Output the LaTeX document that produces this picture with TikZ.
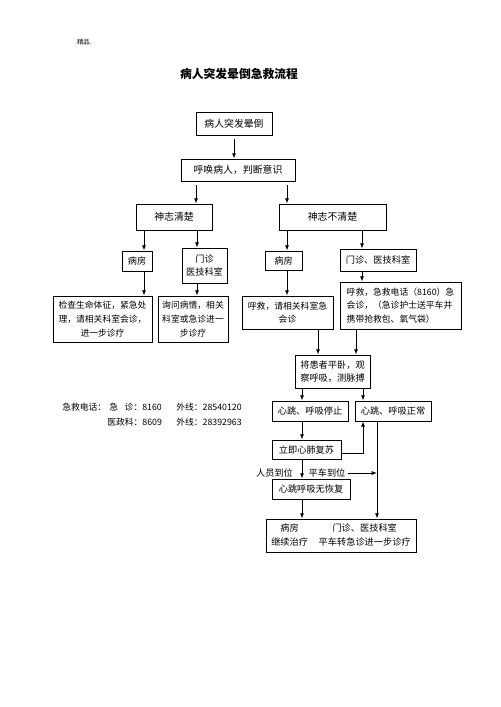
\documentclass[tikz,border=0pt]{standalone}
\usepackage{fontspec}
\setmainfont{Noto Sans CJK SC}
\usetikzlibrary{arrows.meta}
\begin{document}
\begin{tikzpicture}[x=0.75pt,y=-0.75pt,
  box/.style={draw,line width=0.6pt,inner sep=0pt,align=center,font=\fontsize{6.6}{10.3}\selectfont},
  big/.style={font=\fontsize{7.4}{10.3}\selectfont},
  mid/.style={font=\fontsize{6.9}{10.3}\selectfont},
  w/.style={minimum width=#1*0.75pt},
  h/.style={minimum height=#1*0.75pt},
  lbl/.style={inner sep=0pt,font=\fontsize{6.9}{9}\selectfont},
  phone/.style={inner sep=0pt,anchor=west,font=\fontsize{6.6}{9}\selectfont},
  arr/.style={line width=0.6pt,-{Latex[length=4pt,width=3pt]}},
  ln/.style={line width=0.6pt}]
\useasboundingbox (0,0) rectangle (500,707);

\node[inner sep=0pt,anchor=west,font=\fontsize{4.8}{5}\selectfont] (jp) at (75,42) {.精品.};
\node[inner sep=0pt,font=\bfseries\fontsize{8.85}{10}\selectfont] (title) at (239,74) {病人突发晕倒急救流程};

\node[box,big,w=76,h=23] (b1) at (234,123.5) {病人突发晕倒};
\node[box,big,w=114,h=22] (b2) at (238,170) {呼唤病人，判断意识};
\node[box,big,w=76,h=26] (b3) at (174,217) {神志清楚};
\node[box,big,w=107,h=26] (b4) at (332.5,217) {神志不清楚};

\node[box,mid,w=30,h=20] (l1) at (137,261) {病房};
\node[box,mid,w=45,h=35] (l2) at (204.5,265.5) {门诊\\医技科室};
\node[box,mid,w=37,h=19] (r1) at (283.5,260.5) {病房};
\node[box,mid,w=76,h=22] (r2) at (378,260) {门诊、医技科室};

\node[box,w=99,h=46] (l3) at (102.5,319) {检查生命体征，紧急处\\理，请相关科室会诊，\\进一步诊疗};
\node[box,w=70,h=46] (l4) at (193,319) {询问病情，相关\\科室或急诊进一\\步诊疗};
\node[box,w=91,h=33] (r3) at (287.5,312.5) {呼救，请相关科室急\\会诊};
\node[box,w=121,h=47,align=left] (r4) at (400.5,305.5) {呼救，急救电话（8160）急\\会诊，（急诊护士送平车并\\携带抢救包、氧气袋）};

\node[box,mid,w=75,h=33] (m1) at (332.5,371.5) {将患者平卧，观\\察呼吸，测脉搏};
\node[box,mid,w=76,h=20] (s1) at (310,411) {心跳、呼吸停止};
\node[box,mid,w=76,h=20] (s2) at (393,411) {心跳、呼吸正常};
\node[box,mid,w=69,h=19] (c1) at (306.5,449.5) {立即心肺复苏};
\node[box,mid,w=78,h=20] (n1) at (311,489) {心跳呼吸无恢复};
\node[box,mid,w=150,h=33] (fin) at (341,535.5) {\setlength{\tabcolsep}{4pt}\renewcommand{\arraystretch}{1.05}\begin{tabular}{cc}病房 & 门诊、医技科室\\继续治疗 & 平车转急诊进一步诊疗\end{tabular}};

\node[lbl] (p1) at (274.5,473) {人员到位};
\node[lbl] (p2) at (327,473) {平车到位};

\node[phone] (ph1) at (62,407) {急救电话：};
\node[phone] (ph2) at (109,407) {急\hspace{5pt}诊：8160};
\node[phone] (ph3) at (176,407) {外线：28540120};
\node[phone] (ph4) at (107,422) {医政科：8609};
\node[phone] (ph5) at (176,422) {外线：28392963};

% x positions of the connectors
\coordinate (xa) at (234,0);
\coordinate (xb) at (196,0);
\coordinate (xc) at (287,0);
\coordinate (xd) at (144,0);
\coordinate (xe) at (197,0);
\coordinate (xf) at (362,0);
\coordinate (xg) at (318,0);
\coordinate (xh) at (356,0);
\coordinate (xi) at (302,0);
\coordinate (xj) at (363,0);
\coordinate (xk) at (377,0);
\coordinate (yc) at (0,453);
\coordinate (pe) at (348,473);

\draw[arr,shorten <=3pt] (b1.south -| xa) -- (b2.north -| xa);
\draw[arr,shorten <=3pt] (b2.south -| xb) -- (b3.north -| xb);
\draw[arr,shorten <=3pt] (b2.south -| xc) -- (b4.north -| xc);

\draw[arr] (b3.south -| xd) -- (l1.north -| xd);
\draw[arr] (b3.south -| xe) -- (l2.north -| xe);
\draw[arr] (b4.south -| xc) -- (r1.north -| xc);
\draw[arr] (b4.south -| xf) -- (r2.north -| xf);

\draw[arr] (l1.south -| xd) -- (l3.north -| xd);
\draw[arr] (l2.south -| xe) -- (l4.north -| xe);
\draw[arr] (r1.south -| xc) -- (r3.north -| xc);
\draw[arr] (r2.south -| xf) -- (r4.north -| xf);

\draw[arr] (r3.south -| xg) -- (m1.north -| xg);
\draw[arr] (r4.south -| xh) -- (m1.north -| xh);

\draw[arr] (m1.south -| xi) -- (s1.north -| xi);
\draw[arr] (m1.south -| xj) -- (s2.north -| xj);

\draw[arr] (s1.south -| xi) -- (c1.north -| xi);
\draw[arr] (c1.east |- yc) -| (s2.south -| xj);
\draw[arr] (c1.south -| xi) -- (n1.north -| xi);
\draw[arr] (n1.south -| xi) -- (fin.north -| xi);

\draw[arr] (s2.south -| xk) -- (fin.north -| xk);
\draw[arr] (pe) -- (pe -| xk);
\end{tikzpicture}
\end{document}
